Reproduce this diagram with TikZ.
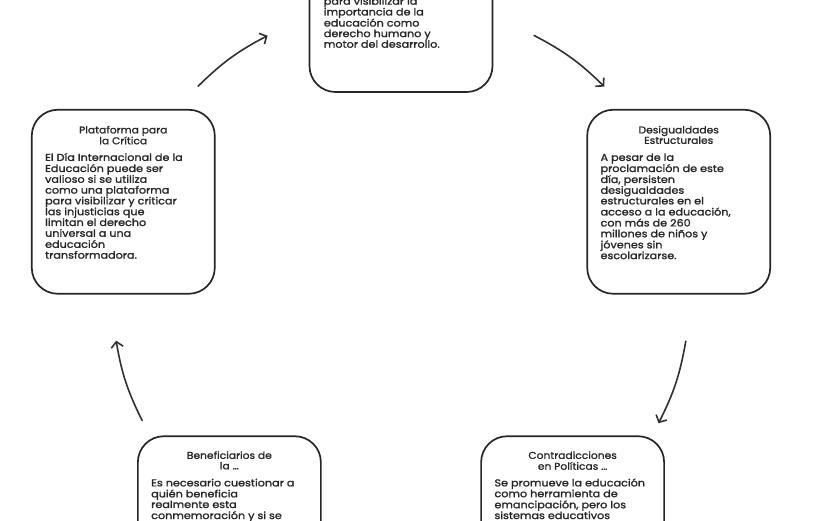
\documentclass[tikz,border=0pt]{standalone}
\usepackage{fontspec}
\setmainfont{Poppins}
\newfontfamily\bodyfont{Poppins}[FakeStretch=1.12, FakeBold=1.6]
\newfontfamily\titlefont{Poppins}[FakeStretch=1.08, FakeBold=1.1]
\usetikzlibrary{arrows.meta,calc}
\definecolor{ink}{HTML}{262626}
\definecolor{arrowink}{HTML}{303030}
\newcommand{\bodylines}[1]{\begin{tabular}[t]{@{}l@{}}#1\end{tabular}}
\newcommand{\titlelines}[1]{\begin{tabular}[t]{@{}c@{}}#1\end{tabular}}
\begin{document}
\begin{tikzpicture}[x=1pt,y=1pt,
  cardbox/.style={draw=ink, line width=1.7pt, rounded corners=26pt,
    minimum width=183pt, minimum height=184pt, inner sep=0pt},
  cardtitle/.style={anchor=base, inner sep=0pt, text=ink,
    font=\titlefont\fontsize{9.9}{10.4}\selectfont},
  cardbody/.style={anchor=base west, inner sep=0pt, text=ink,
    font=\bodyfont\fontsize{10}{10.6}\selectfont},
  cyc/.style={draw=arrowink, line width=1.6pt, line cap=round,
    -{Straight Barb[length=5.5pt,width=12pt,line width=1.6pt]}}]
\useasboundingbox (0,0) rectangle (840,520);
\coordinate (c) at (401,228);

% boxes
\node[cardbox] (top)   at ($(c)+(90:292)$)  {};
\node[cardbox] (right) at ($(c)+(18:292)$)  {};
\node[cardbox] (bright) at ($(c)+(-54:292)$) {};
\node[cardbox] (bleft) at ($(c)+(234:292)$) {};
\node[cardbox] (left)  at ($(c)+(162:292)$) {};

% top card (only visible part)
\node[cardbody] (topbody) at ($(top.north west)+(15,-97.5)$)
  {\bodylines{para visibilizar la\\importancia de la\\educación como\\derecho humano y\\motor del desarrollo.}};

% right card
\node[cardtitle] (righttitle) at ($(right.north)+(0,-24.5)$) {\titlelines{Desigualdades\\Estructurales}};
\node[cardbody] (rightbody) at ($(right.north west)+(14,-52)$)
  {\bodylines{A pesar de la\\proclamación de este\\día, persisten\\desigualdades\\estructurales en el\\acceso a la educación,\\con más de 260\\millones de niños y\\jóvenes sin\\escolarizarse.}};

% bottom right card
\node[cardtitle] (brighttitle) at ($(bright.north)+(0,-23.5)$) {\titlelines{Contradicciones\\en Políticas …}};
\node[cardbody] (brightbody) at ($(bright.north west)+(14,-51)$)
  {\bodylines{Se promueve la educación\\como herramienta de\\emancipación, pero los\\sistemas educativos}};

% bottom left card
\node[cardtitle] (blefttitle) at ($(bleft.north)+(0,-23.5)$) {\titlelines{Beneficiarios de\\la …}};
\node[cardbody] (bleftbody) at ($(bleft.north west)+(14,-51)$)
  {\bodylines{Es necesario cuestionar a\\quién beneficia\\realmente esta\\conmemoración y si se}};

% left card
\node[cardtitle] (lefttitle) at ($(left.north)+(0,-24.5)$) {\titlelines{Plataforma para\\la Crítica}};
\node[cardbody] (leftbody) at ($(left.north west)+(14,-52)$)
  {\bodylines{El Día Internacional de la\\Educación puede ser\\valioso si se utiliza\\como una plataforma\\para visibilizar y criticar\\las injusticias que\\limitan el derecho\\universal a una\\educación\\transformadora.}};

% cycle arrows
\coordinate (a1s) at ($(c)+(134.6:289)$);
\coordinate (a1e) at ($(c)+(117.5:289)$);
\coordinate (a2s) at ($(c)+(62.6:289)$);
\coordinate (a2e) at ($(c)+(45.3:289)$);
\coordinate (a3s) at ($(c)+(-9.8:289)$);
\coordinate (a3e) at ($(c)+(-27:289)$);
\coordinate (a5s) at ($(c)+(206.4:289)$);
\coordinate (a5e) at ($(c)+(189.7:289)$);
\draw[cyc] (a1s) to[bend left=8.5] (a1e);
\draw[cyc] (a2s) to[bend left=8.5] (a2e);
\draw[cyc] (a3s) to[bend left=8.5] (a3e);
\draw[cyc] (a5s) to[bend left=8.5] (a5e);
\end{tikzpicture}
\end{document}
